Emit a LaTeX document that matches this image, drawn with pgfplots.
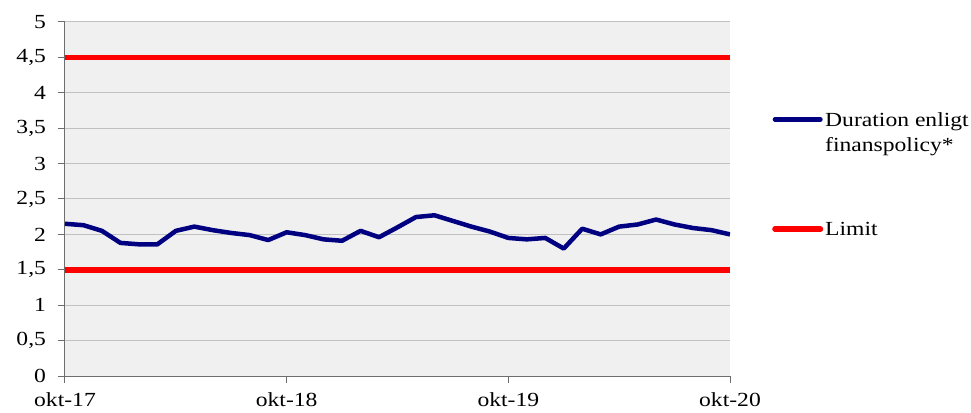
\documentclass[border=0pt]{standalone}
\usepackage{fontspec}
\setmainfont{Liberation Serif}[FakeStretch=1.18]
\usepackage{pgfplots}
\pgfplotsset{compat=1.18}
\definecolor{bgc}{RGB}{240,240,240}
\definecolor{gridc}{RGB}{192,192,192}
\definecolor{axc}{RGB}{110,110,110}
\definecolor{navyc}{RGB}{0,0,128}
\definecolor{redc}{RGB}{255,0,0}
\begin{document}
\begin{tikzpicture}[font=\fontsize{20}{25.5}\selectfont]
\begin{axis}[
  scale only axis, width=665pt, height=354pt,
  xmin=0, xmax=36, ymin=0, ymax=5,
  axis lines*=left,
  axis line style={axc, line width=1pt},
  axis background/.style={fill=bgc},
  xtick={0,12,24,36},
  xticklabels={okt-17,okt-18,okt-19,okt-20},
  ytick={0,0.5,...,5},
  /pgf/number format/.cd, use comma, fixed, assume math mode=true,
  /pgfplots/.cd,
  tick align=outside, major tick length=7pt,
  tick style={axc, line width=1pt},
  ymajorgrids, grid style={gridc, line width=1pt},
  tick label style={font=\fontsize{20}{25}\selectfont},
  yticklabel style={xshift=-8.5pt},
  xticklabel style={yshift=-6pt},
  legend style={at={(rel axis cs:1,1)}, anchor=north west, xshift=42pt, yshift=-90pt,
    draw=none, fill=none, inner sep=0pt, row sep=95pt, column sep=2pt,
    font=\fontsize{20}{25.5}\selectfont,
    nodes={inner sep=0pt, anchor=base west}},
  legend image code/.code={\draw[#1, line cap=round] (2.5pt,6.7pt) -- (48pt,6.7pt);},
]
\addplot[navyc, line width=4.5pt, line join=round] coordinates {
(0,2.15)(1,2.13)(2,2.05)(3,1.88)(4,1.86)(5,1.86)(6,2.05)(7,2.11)(8,2.06)(9,2.02)
(10,1.99)(11,1.92)(12,2.03)(13,1.99)(14,1.93)(15,1.91)(16,2.05)(17,1.96)(18,2.10)
(19,2.245)(20,2.27)(21,2.19)(22,2.11)(23,2.04)(24,1.95)(25,1.93)(26,1.95)(27,1.80)
(28,2.08)(29,2.00)(30,2.11)(31,2.14)(32,2.21)(33,2.14)(34,2.09)(35,2.06)(36,2.00)};
\addlegendentry{\vtop{\hbox{Duration enligt}\hbox{finanspolicy*}}}
\addplot[redc, line width=5.5pt] coordinates {(0,1.5)(36,1.5)};
\addlegendentry{Limit}
\addplot[redc, line width=5.5pt, forget plot] coordinates {(0,4.5)(36,4.5)};
\end{axis}
\pgfresetboundingbox
\path[use as bounding box] (-65pt,-36pt) rectangle (906pt,376pt);
\end{tikzpicture}
\end{document}
